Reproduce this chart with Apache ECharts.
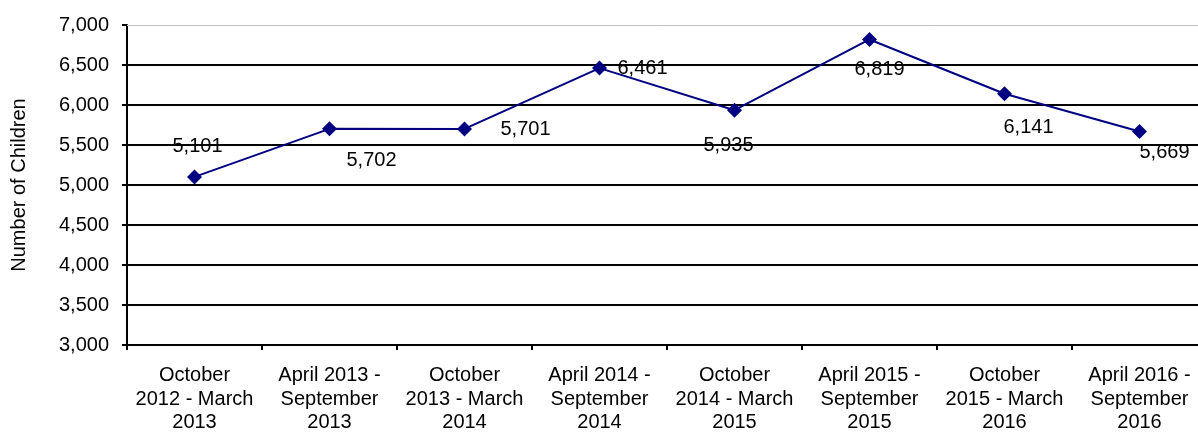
<!DOCTYPE html>
<html>
<head>
<meta charset="utf-8">
<script src="https://cdn.jsdelivr.net/npm/echarts@6/dist/echarts.min.js"></script>
<style>
  html, body { margin: 0; padding: 0; background: #fff; }
  #chart { width: 1198px; height: 439px; }
</style>
</head>
<body>
<div id="chart"></div>
<script>
// periods (x axis)
var categories = [
  "October\n2012 - March\n2013",
  "April 2013 -\nSeptember\n2013",
  "October\n2013 - March\n2014",
  "April 2014 -\nSeptember\n2014",
  "October\n2014 - March\n2015",
  "April 2015 -\nSeptember\n2015",
  "October\n2015 - March\n2016",
  "April 2016 -\nSeptember\n2016"
];
// number of children
var children = [5101, 5702, 5701, 6461, 5935, 6819, 6141, 5669];
var yMin = 3000, yMax = 7000, yStep = 500;

// where each value label sits relative to its marker (px)
var labelOffsets = [[3, -30], [42, 32], [61, 1], [43, 0], [-6, 35], [10, 30], [24, 34], [25, 21]];

var font = "'Liberation Sans', Arial, sans-serif";
var chart = echarts.init(document.getElementById("chart"));

chart.setOption({
  animation: false,
  textStyle: { fontFamily: font },
  // plot runs a little past the right edge of the picture
  grid: { left: 127, width: 1080, top: 25, bottom: 94, containLabel: false, outerBoundsMode: "none" },
  xAxis: [{
    type: "category",
    data: categories,
    boundaryGap: true,
    axisLine: { lineStyle: { color: "#000", width: 2 } },
    axisTick: { show: true, length: 5, lineStyle: { color: "#000", width: 2 } },
    axisLabel: { color: "#000", fontSize: 20, lineHeight: 23.5, margin: 19, interval: 0, fontFamily: font }
  }, {
    type: "category",
    data: categories,
    position: "top",
    axisLine: { lineStyle: { color: "#c0c0c0", width: 1 } },
    axisTick: { show: false },
    axisLabel: { show: false }
  }],
  yAxis: {
    type: "value",
    min: yMin,
    max: yMax,
    interval: yStep,
    name: "Number of Children",
    nameLocation: "middle",
    nameGap: 98,
    nameTextStyle: { color: "#000", fontSize: 20, fontFamily: font },
    axisLine: { show: true, lineStyle: { color: "#000", width: 2 } },
    axisTick: { show: true, length: 5, lineStyle: { color: "#000", width: 2 } },
    axisLabel: {
      color: "#000", fontSize: 20, margin: 18, fontFamily: font,
      formatter: function (v) { return v.toLocaleString("en-US"); }
    },
    splitLine: { show: true, showMaxLine: false, lineStyle: { color: "#000", width: 2 } }
  },
  series: [{
    type: "line",
    data: children.map(function (v, i) {
      return {
        value: v,
        label: { offset: labelOffsets[i] }
      };
    }),
    symbol: "diamond",
    symbolSize: 15,
    lineStyle: { color: "#000080", width: 2 },
    itemStyle: { color: "#000080" },
    label: {
      show: true,
      position: "inside",
      color: "#000",
      fontSize: 20,
      fontFamily: font,
      formatter: function (p) { return p.value.toLocaleString("en-US"); }
    },
    z: 5
  }]
});
</script>
</body>
</html>
